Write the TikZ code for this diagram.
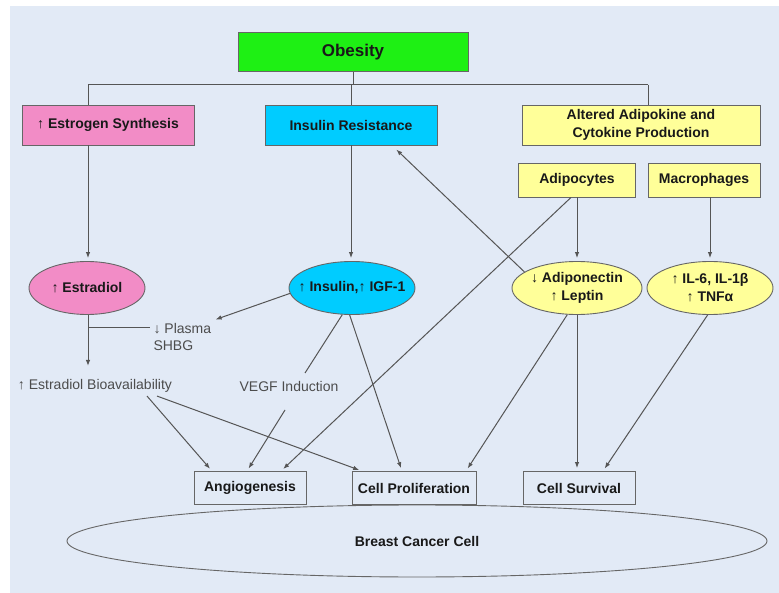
\documentclass[tikz,border=0pt]{standalone}
\usepackage{fontspec}
\setmainfont{Liberation Sans}
\usetikzlibrary{shapes.geometric,arrows.meta}

\definecolor{panelbg}{RGB}{226,234,246}
\definecolor{obesgreen}{RGB}{30,240,20}
\definecolor{estropink}{RGB}{242,140,198}
\definecolor{insucyan}{RGB}{0,204,255}
\definecolor{adipoyellow}{RGB}{255,255,153}
\definecolor{linegray}{RGB}{85,85,85}

\begin{document}
\begin{tikzpicture}[x=1pt,y=-1pt,
    box/.style={draw=black!60, line width=0.9pt, minimum height=34pt, inner sep=2pt,
        align=center, text=black!90, font=\fontsize{14}{18}\selectfont\bfseries},
    oval/.style={ellipse, draw=black!60, line width=0.9pt, minimum height=53pt, inner sep=0pt,
        align=center, text=black!90, font=\fontsize{14}{18}\selectfont\bfseries},
    freetext/.style={text=black!70, font=\fontsize{14}{17}\selectfont},
    link/.style={draw=linegray, line width=1pt},
    arr/.style={link, -{Latex[length=6pt,width=4.5pt]}, shorten >=3pt}]

    % panel
    \useasboundingbox (0,0) rectangle (779,593);
    \fill[panelbg] (10,6) rectangle (779,593);

    % top level
    \node[box, fill=obesgreen, minimum width=230pt, minimum height=39pt,
        font=\fontsize{17}{20}\selectfont\bfseries] (obesity) at (353,52) {Obesity};
    \node[box, fill=estropink, minimum width=172pt, minimum height=40pt] (estrogen) at (108,125) {↑ Estrogen Synthesis};
    \node[box, fill=insucyan, minimum width=172pt, minimum height=40pt] (insres) at (351,125) {Insulin Resistance};
    \node[box, fill=adipoyellow, minimum width=238pt, minimum height=40pt] (altered) at (641,125) {Altered Adipokine and\\Cytokine Production};
    \node[box, fill=adipoyellow, minimum width=117pt] (adipo) at (577,180) {Adipocytes};
    \node[box, fill=adipoyellow, minimum width=112pt] (macro) at (704,180) {Macrophages};

    % mediators
    \node[oval, fill=estropink, minimum width=116pt] (estradiol) at (87,288) {↑ Estradiol};
    \node[oval, fill=insucyan, minimum width=126pt, inner xsep=-9pt] (insulin) at (352,288) {↑ Insulin,↑ IGF-1};
    \node[oval, fill=adipoyellow, minimum width=130pt] (adipon) at (577,288) {↓ Adiponectin\\↑ Leptin};
    \node[oval, fill=adipoyellow, minimum width=126pt] (ilsix) at (710,288) {↑ IL-6, IL-1β\\↑ TNFα};

    \node[freetext, anchor=west, align=left] (shbg) at (150,337) {↓ Plasma\\SHBG};
    \node[freetext] (bioavail) at (95,386) {↑ Estradiol Bioavailability};
    \node[freetext] (vegf) at (289,386) {VEGF Induction};

    % outcomes
    \node[ellipse, draw=black!60, line width=0.9pt, minimum width=700pt, minimum height=72pt,
        font=\fontsize{14}{18}\selectfont\bfseries, text=black!90] (cancer) at (417,541) {Breast Cancer Cell};
    \node[box, fill=panelbg, minimum width=112pt, minimum height=33pt] (angio) at (250,488) {Angiogenesis};
    \node[box, fill=panelbg, minimum width=124pt, minimum height=33pt] (prolif) at (414,488) {Cell Proliferation};
    \node[box, fill=panelbg, minimum width=112pt, minimum height=33pt] (survival) at (579,488) {Cell Survival};

    % tree from obesity
    \coordinate (busL) at (88,85);
    \coordinate (busR) at (648,85);
    \draw[link] (busL) -- (busR);
    \draw[link] (obesity.south) -- (obesity.south |- busL);
    \draw[link] (busL) -- (busL |- estrogen.north);
    \draw[link] (insres.north |- busL) -- (insres.north);
    \draw[link] (busR) -- (busR |- altered.north);

    % down arrows
    \draw[arr] (busL |- estrogen.south) -- (busL |- estradiol.north);
    \draw[arr] (insres.south) -- (insres.south |- insulin.north);
    \draw[arr] (adipo.south) -- (adipo.south |- adipon.north);
    \draw[arr] (ilsix.north |- macro.south) -- (ilsix.north);
    \draw[arr, shorten >=10pt] (busL |- estradiol.south) -- (busL |- bioavail.north);

    % SHBG branch
    \coordinate (tee) at (88,328);
    \draw[link] (tee) -- (tee -| shbg.west);
    \draw[arr, shorten >=1pt] (insulin.185) -- (shbg.north east);

    % feedback to insulin resistance
    \draw[arr, shorten >=6pt] (adipon.163) -- ([xshift=41pt]insres.south);

    % VEGF
    \coordinate (vegfin) at (305,373);
    \coordinate (vegfout) at (285,410);
    \draw[link] (insulin.250) -- (vegfin);
    \draw[arr] (vegfout) -- ([xshift=-3pt]angio.north);

    % into outcomes
    \draw[arr] ([xshift=52pt]bioavail.south) -- ([xshift=-38pt]angio.north);
    \draw[arr] ([xshift=62pt]bioavail.south) -- ([xshift=-52pt]prolif.north);
    \draw[arr] ([xshift=-6pt]adipo.south) -- ([xshift=31pt]angio.north);
    \draw[arr] (insulin.265) -- ([xshift=-12pt]prolif.north);
    \draw[arr] (adipon.250) -- ([xshift=52pt]prolif.north);
    \draw[arr] (adipon.south) -- (adipon.south |- survival.north);
    \draw[arr] (ilsix.265) -- ([xshift=24pt]survival.north);
\end{tikzpicture}
\end{document}
